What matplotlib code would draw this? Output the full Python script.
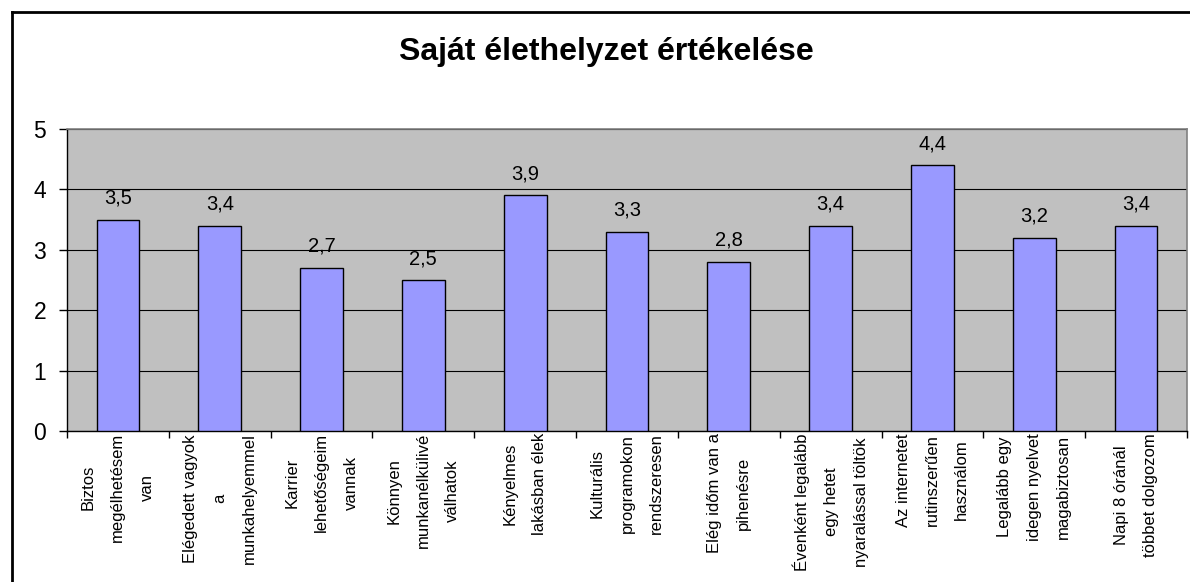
import matplotlib
matplotlib.use("Agg")
import matplotlib.pyplot as plt
from matplotlib.lines import Line2D

plt.rcParams['font.family'] = ['Liberation Sans', 'DejaVu Sans']

title = "Saját élethelyzet értékelése"
categories = [
    "Biztos\nmegélhetésem\nvan",
    "Elégedett vagyok\na\nmunkahelyemmel",
    "Karrier\nlehetőségeim\nvannak",
    "Könnyen\nmunkanélkülivé\nválhatok",
    "Kényelmes\nlakásban élek",
    "Kulturális\nprogramokon\nrendszeresen",
    "Elég időm van a\npihenésre",
    "Évenként legalább\negy hetet\nnyaralással töltök",
    "Az internetet\nrutinszerűen\nhasználom",
    "Legalább egy\nidegen nyelvet\nmagabiztosan",
    "Napi 8 óránál\ntöbbet dolgozom",
]
values = [3.5, 3.4, 2.7, 2.5, 3.9, 3.3, 2.8, 3.4, 4.4, 3.2, 3.4]
yticks = [0, 1, 2, 3, 4, 5]

W, H = 1190, 582
fig = plt.figure(figsize=(W / 100, H / 100), dpi=100)
fig.patch.set_facecolor('white')

L, R, T, B = 67, 1187, 129, 431
ax = fig.add_axes([L / W, (H - B) / H, (R - L) / W, (B - T) / H])
ax.set_facecolor('#C0C0C0')

x = list(range(len(values)))
ax.set_axisbelow(True)
ax.yaxis.grid(True, color='black', linewidth=0.8)
ax.bar(x, values, width=0.42, color='#9999FF', edgecolor='black', linewidth=1.0, zorder=3)

for xi, v in zip(x, values):
    ax.annotate(f"{v:.1f}".replace('.', ','), (xi, v), xytext=(0, 11.5), textcoords='offset points',
                ha='center', va='baseline', fontsize=14.5)

ax.set_xlim(-0.5, len(values) - 0.5)
ax.set_ylim(0, 5)
ax.set_yticks(yticks)
ax.set_yticklabels([str(t) for t in yticks], fontsize=16.5)
ax.tick_params(axis='y', length=6, width=1, pad=9, direction='out', colors='black')

ax.set_xticks(x)
ax.set_xticklabels(categories, rotation=90, ha='center', va='top', multialignment='center',
                   fontsize=12, linespacing=2.2)
ax.tick_params(axis='x', which='major', length=0, pad=1.5)
ax.set_xticks([i - 0.5 for i in range(len(values) + 1)], minor=True)
ax.tick_params(axis='x', which='minor', length=5, width=1, direction='out')

for s in ['top', 'right']:
    ax.spines[s].set_color('#808080')
    ax.spines[s].set_linewidth(1.2)
for s in ['left', 'bottom']:
    ax.spines[s].set_color('black')
    ax.spines[s].set_linewidth(1.0)

fig.text(606 / W, 1 - 52 / H, title, ha='center', va='center', fontsize=23, fontweight='bold')

# outer chart frame
fig.add_artist(Line2D([11.5 / W, 11.5 / W], [0, 1 - 11.5 / H], transform=fig.transFigure,
                      color='black', linewidth=2))
fig.add_artist(Line2D([11.5 / W, 1], [1 - 11.5 / H, 1 - 11.5 / H], transform=fig.transFigure,
                      color='black', linewidth=2))

fig.savefig('out.png', dpi=100)
